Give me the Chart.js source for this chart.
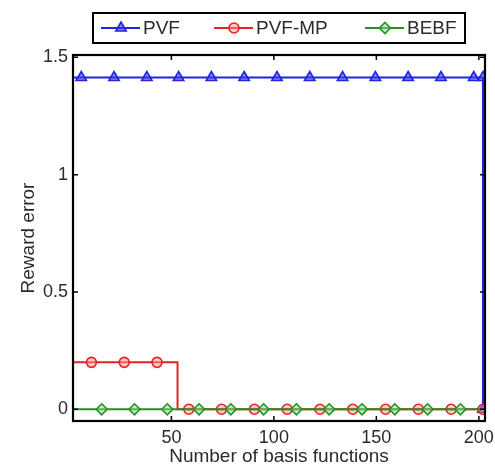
<!DOCTYPE html>
<html><head><meta charset="utf-8">
<script src="https://cdn.jsdelivr.net/npm/chart.js@4.4.0/dist/chart.umd.min.js"></script>
<style>html,body{margin:0;padding:0;background:#fff;}#wrap{width:495px;height:464px;position:relative;}</style>
</head><body><div id="wrap"><canvas id="c" width="495" height="464"></canvas></div>
<script>
// ---- data ----
const seriesNames = ['PVF', 'PVF-MP', 'BEBF'];
const xTicks = [50, 100, 150, 200];
const yTicks = [0, 0.5, 1, 1.5];
const xLabel = 'Number of basis functions';
const yLabel = 'Reward error';

// PVF (line points; marker flag 1 = marker drawn)
const pvfX = [2, 6, 22, 38, 53.5, 69.5, 85.5, 101.5, 117.5, 133.5, 149.5, 165.5, 181.5, 197.5, 202, 202];
const pvfY = [1.414, 1.414, 1.414, 1.414, 1.414, 1.414, 1.414, 1.414, 1.414, 1.414, 1.414, 1.414, 1.414, 1.414, 1.414, 0];
const pvfM = [0, 1, 1, 1, 1, 1, 1, 1, 1, 1, 1, 1, 1, 1, 1, 1];
// PVF-MP
const mpX = [2, 11, 27, 43, 53, 53, 58.5, 74.5, 90.5, 106.5, 122.5, 138.5, 154.5, 170.5, 186.5, 202];
const mpY = [0.2, 0.2, 0.2, 0.2, 0.2, 0, 0, 0, 0, 0, 0, 0, 0, 0, 0, 0];
const mpM = [0, 1, 1, 1, 0, 0, 1, 1, 1, 1, 1, 1, 1, 1, 1, 1];
// BEBF
const bebfX = [2, 16, 32, 48, 63.5, 79, 95, 111, 127, 143, 159, 175, 191, 202];
const bebfY = [0, 0, 0, 0, 0, 0, 0, 0, 0, 0, 0, 0, 0, 0];
const bebfM = [0, 1, 1, 1, 1, 1, 1, 1, 1, 1, 1, 1, 1, 0];

// ---- styles ----
const colors = ['#2222e0', '#e52222', '#239123'];
const fills = ['rgba(60,60,240,0.6)', 'rgba(255,150,150,0.5)', 'rgba(150,210,150,0.5)'];
const styles = ['triangle', 'circle', 'rectRot'];
const radii = [6, 5, 5.5];
const textColor = '#2b2b2b';
const FONT = '"Liberation Sans", Arial, Helvetica, sans-serif';

function pts(xs, ys) { return xs.map((x, i) => ({x: x, y: ys[i]})); }
function mkDs(i, xs, ys, ms, order) {
  return {
    label: seriesNames[i], data: pts(xs, ys), showLine: true, tension: 0,
    borderColor: colors[i], borderWidth: 2,
    pointStyle: styles[i], pointRadius: ms.map(m => m ? radii[i] : 0),
    pointBorderColor: colors[i], pointBackgroundColor: fills[i], pointBorderWidth: 1.6,
    pointHoverRadius: ms.map(m => m ? radii[i] : 0), order: order
  };
}

function drawMarker(ctx, style, x, y, r) {
  ctx.beginPath();
  if (style === 'triangle') {
    ctx.moveTo(x, y - r); ctx.lineTo(x + r * 0.866, y + r * 0.5); ctx.lineTo(x - r * 0.866, y + r * 0.5); ctx.closePath();
  } else if (style === 'circle') {
    ctx.arc(x, y, r, 0, Math.PI * 2);
  } else {
    ctx.moveTo(x, y - r); ctx.lineTo(x + r, y); ctx.lineTo(x, y + r); ctx.lineTo(x - r, y); ctx.closePath();
  }
  ctx.fill(); ctx.stroke();
}

const framePlugin = {
  id: 'frame',
  afterDatasetsDraw(chart) {
    const {ctx, chartArea: a, scales} = chart;
    ctx.save();
    ctx.strokeStyle = '#000'; ctx.lineWidth = 1.5;
    const tl = 5;
    xTicks.forEach(v => {
      const px = scales.x.getPixelForValue(v);
      ctx.beginPath(); ctx.moveTo(px, a.bottom); ctx.lineTo(px, a.bottom - tl);
      ctx.moveTo(px, a.top); ctx.lineTo(px, a.top + tl); ctx.stroke();
    });
    yTicks.forEach(v => {
      const py = scales.y.getPixelForValue(v);
      ctx.beginPath(); ctx.moveTo(a.left, py); ctx.lineTo(a.left + tl, py);
      ctx.moveTo(a.right, py); ctx.lineTo(a.right - tl, py); ctx.stroke();
    });
    ctx.lineWidth = 2.2;
    ctx.strokeRect(a.left, a.top, a.right - a.left, a.bottom - a.top);
    ctx.restore();
  },
  afterDraw(chart) {
    const ctx = chart.ctx;
    ctx.save();
    // legend box
    ctx.fillStyle = '#fff';
    ctx.fillRect(93, 13, 372, 30);
    ctx.strokeStyle = '#000'; ctx.lineWidth = 2;
    ctx.strokeRect(93, 13, 372, 30);
    const starts = [101, 214, 365];
    const ly = 28;
    chart.data.datasets.forEach((ds, i) => {
      const x0 = starts[i];
      ctx.strokeStyle = colors[i]; ctx.lineWidth = 2;
      ctx.beginPath(); ctx.moveTo(x0, ly); ctx.lineTo(x0 + 39, ly); ctx.stroke();
      ctx.fillStyle = fills[i]; ctx.lineWidth = 1.6;
      drawMarker(ctx, styles[i], x0 + 20, ly, radii[i]);
      ctx.fillStyle = textColor;
      ctx.font = '19px ' + FONT;
      ctx.textBaseline = 'middle'; ctx.textAlign = 'left';
      ctx.fillText(ds.label, x0 + 42, ly + 1);
    });
    ctx.restore();
  }
};

new Chart(document.getElementById('c'), {
  type: 'scatter',
  data: {
    datasets: [
      mkDs(0, pvfX, pvfY, pvfM, 3),
      mkDs(1, mpX, mpY, mpM, 2),
      mkDs(2, bebfX, bebfY, bebfM, 1)
    ]
  },
  options: {
    responsive: false, animation: false, devicePixelRatio: 1,
    layout: {padding: {top: 55, right: 10, bottom: 0, left: 0}},
    plugins: {legend: {display: false}, tooltip: {enabled: false}},
    scales: {
      x: {
        type: 'linear', position: 'bottom', min: 2, max: 203,
        grid: {display: false, drawTicks: false}, border: {display: false},
        afterBuildTicks: s => { s.ticks = xTicks.map(v => ({value: v})); },
        afterFit: s => { s.height = 43; s.paddingLeft = 0; s.paddingRight = 0; },
        ticks: {padding: 6, color: textColor, font: {family: FONT, size: 18}, maxRotation: 0, callback: v => String(v)},
        title: {display: true, text: xLabel, color: textColor, font: {family: FONT, size: 19}, padding: {top: 0, bottom: -4}}
      },
      y: {
        type: 'linear', position: 'left', min: -0.05, max: 1.51,
        grid: {display: false, drawTicks: false}, border: {display: false},
        afterBuildTicks: s => { s.ticks = yTicks.map(v => ({value: v})); },
        afterFit: s => { s.width = 73; s.paddingTop = 0; s.paddingBottom = 0; },
        ticks: {padding: 5, color: textColor, font: {family: FONT, size: 18}, callback: v => String(v)},
        title: {display: true, text: yLabel, color: textColor, font: {family: FONT, size: 19}, padding: {top: 17, bottom: 0}}
      }
    }
  },
  plugins: [framePlugin]
});
</script></body></html>
